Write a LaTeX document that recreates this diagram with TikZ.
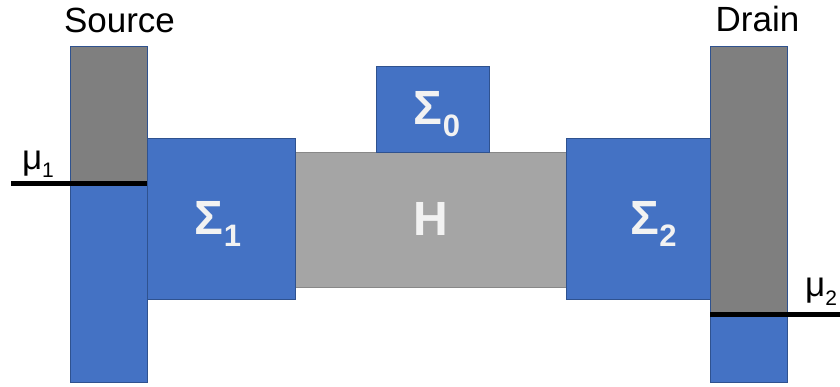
\documentclass[tikz,border=0pt]{standalone}
\usepackage{fontspec}
\setmainfont{Liberation Sans}
\definecolor{bl}{HTML}{4472C4}
\definecolor{bldk}{HTML}{2F528F}
\definecolor{gdk}{HTML}{7F7F7F}
\definecolor{glt}{HTML}{A5A5A5}
\definecolor{gedge}{HTML}{888888}
\definecolor{txt}{HTML}{F2F2F2}
\tikzset{
  box/.style={draw=bldk, line width=0.8pt, inner sep=0pt, outer sep=0pt, anchor=north west},
  lvl/.style={line width=5pt, black},
  lab/.style={font=\fontsize{35}{42}\selectfont, inner sep=0pt, anchor=base},
  sig/.style={text=txt, font=\fontsize{48}{48}\selectfont\bfseries, inner sep=0pt, anchor=base},
}
\begin{document}
\begin{tikzpicture}[x=1pt,y=-1pt]
\useasboundingbox (0,0) rectangle (840,387);

% central region and the leads around it
\node[box, draw=gedge, fill=glt, minimum width=272pt, minimum height=135pt] (H) at (295,152) {};
\node[box, fill=bl, minimum width=113pt, minimum height=86pt] (S0) at (376,66) {};
\node[box, fill=bl, minimum width=148pt, minimum height=161pt] (S1) at (147,138) {};
\node[box, fill=bl, minimum width=144pt, minimum height=161pt] (S2) at (566,138) {};

% source and drain reservoirs
\node[box, fill=gdk, minimum width=77pt, minimum height=138pt] (srctop) at (70,46) {};
\node[box, fill=bl, minimum width=77pt, minimum height=198pt] (srcbot) at (70,184) {};
\node[box, fill=gdk, minimum width=77pt, minimum height=268pt] (drntop) at (710,46) {};
\node[box, fill=bl, minimum width=77pt, minimum height=68pt] (drnbot) at (710,314) {};

% chemical potential levels
\coordinate (m1) at (11,184);
\coordinate (m2) at (840,314);
\draw[lvl] (m1) -- (srctop.south east);
\draw[lvl] (drntop.south west) -- (m2);

% labels
\node[lab] (srclab) at (119.5,33) {Source};
\node[lab] (drnlab) at (757.5,32) {Drain};
\node[lab] (mu1lab) at (38,170) {μ\raisebox{-8pt}{\fontsize{21}{21}\selectfont 1}};
\node[lab] (mu2lab) at (821,296) {μ\raisebox{-9pt}{\fontsize{21}{21}\selectfont 2}};

\node[sig] (s0lab) at (437,125) {Σ\raisebox{-12pt}{\fontsize{31}{31}\selectfont 0}};
\node[sig] (s1lab) at (218,235) {Σ\raisebox{-12pt}{\fontsize{31}{31}\selectfont 1}};
\node[sig] (s2lab) at (653.5,235) {Σ\raisebox{-12pt}{\fontsize{31}{31}\selectfont 2}};
\node[sig] (hlab) at (431,236) {H};
\end{tikzpicture}
\end{document}
